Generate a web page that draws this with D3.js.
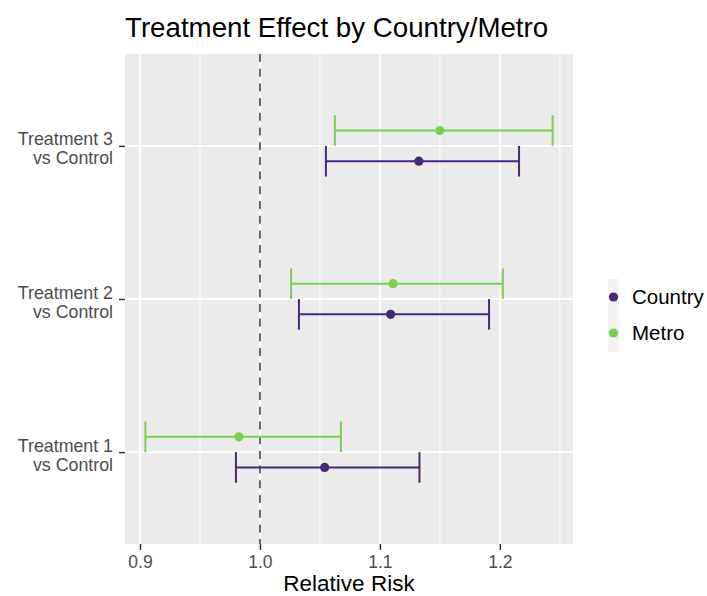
<!DOCTYPE html>
<html>
<head>
<meta charset="utf-8">
<script src="https://cdn.jsdelivr.net/npm/d3@7"></script>
<style>
  body { margin: 0; background: #fff; }
  text { font-family: "Liberation Sans", Arial, Helvetica, sans-serif; }
</style>
</head>
<body>
<svg id="chart" width="707" height="596"></svg>
<script>
// ---- data ----
const comparisons = ["Treatment 1\nvs Control", "Treatment 2\nvs Control", "Treatment 3\nvs Control"];
const groups = ["Country", "Metro"];
const groupColors = ["#482878", "#7AD151"];
const countryEstimate = [1.054, 1.109, 1.1325];
const countryLower    = [0.980, 1.0325, 1.055];
const countryUpper    = [1.133, 1.191, 1.216];
const metroEstimate   = [0.9825, 1.111, 1.150];
const metroLower      = [0.9045, 1.026, 1.0625];
const metroUpper      = [1.0675, 1.2025, 1.244];
const xTicks = [0.9, 1.0, 1.1, 1.2];
const xMinor = [0.95, 1.05, 1.15, 1.25];
const referenceLine = 1.0;
const titleText = "Treatment Effect by Country/Metro";
const xTitle = "Relative Risk";

const rows = [];
comparisons.forEach((c, i) => {
  rows.push({comp: c, group: "Country", est: countryEstimate[i], lo: countryLower[i], hi: countryUpper[i]});
  rows.push({comp: c, group: "Metro", est: metroEstimate[i], lo: metroLower[i], hi: metroUpper[i]});
});

// ---- layout ----
const svg = d3.select("#chart");
const panel = {left: 125, right: 573, top: 54, bottom: 544};

const allVals = rows.flatMap(d => [d.lo, d.hi, d.est]);
const dMin = d3.min(allVals), dMax = d3.max(allVals);
const pad = (dMax - dMin) * 0.05;
const x = d3.scaleLinear().domain([dMin - pad, dMax + pad]).range([panel.left, panel.right]);

// discrete y: positions 1..3 with 0.6 expansion
const yCont = d3.scaleLinear().domain([0.4, comparisons.length + 0.6]).range([panel.bottom, panel.top]);
const yPos = c => yCont(comparisons.indexOf(c) + 1);
const dodge = d3.scaleOrdinal().domain(groups).range([-0.1, 0.1]); // Country below, Metro above
const color = d3.scaleOrdinal().domain(groups).range(groupColors);
const rowY = d => yCont(comparisons.indexOf(d.comp) + 1 + dodge(d.group));

// panel background
svg.append("rect")
  .attr("x", panel.left).attr("y", panel.top)
  .attr("width", panel.right - panel.left).attr("height", panel.bottom - panel.top)
  .attr("fill", "#EBEBEB");

// minor grid
svg.append("g").selectAll("line").data(xMinor.filter(v => x(v) >= panel.left && x(v) <= panel.right)).join("line")
  .attr("x1", d => x(d)).attr("x2", d => x(d))
  .attr("y1", panel.top).attr("y2", panel.bottom)
  .attr("stroke", "#fff").attr("stroke-width", 0.9);

// major grid
svg.append("g").selectAll("line").data(xTicks).join("line")
  .attr("x1", d => x(d)).attr("x2", d => x(d))
  .attr("y1", panel.top).attr("y2", panel.bottom)
  .attr("stroke", "#fff").attr("stroke-width", 1.8);
svg.append("g").selectAll("line").data(comparisons).join("line")
  .attr("x1", panel.left).attr("x2", panel.right)
  .attr("y1", d => yPos(d)).attr("y2", d => yPos(d))
  .attr("stroke", "#fff").attr("stroke-width", 1.8);

// reference dashed line
svg.append("line")
  .attr("x1", x(referenceLine)).attr("x2", x(referenceLine))
  .attr("y1", panel.top).attr("y2", panel.bottom)
  .attr("stroke", "#5a5a5a").attr("stroke-width", 1.8)
  .attr("stroke-dasharray", "8,6.7");

// error bars
const capHalf = (yCont(1.1) - yCont(1.0)) * -1; // half of 0.2 width
const eb = svg.append("g").selectAll("g").data(rows).join("g")
  .attr("stroke", d => color(d.group)).attr("stroke-width", 2).attr("fill", "none");
eb.append("line")
  .attr("x1", d => x(d.lo)).attr("x2", d => x(d.hi))
  .attr("y1", d => rowY(d)).attr("y2", d => rowY(d));
eb.append("line")
  .attr("x1", d => x(d.lo)).attr("x2", d => x(d.lo))
  .attr("y1", d => rowY(d) - capHalf).attr("y2", d => rowY(d) + capHalf);
eb.append("line")
  .attr("x1", d => x(d.hi)).attr("x2", d => x(d.hi))
  .attr("y1", d => rowY(d) - capHalf).attr("y2", d => rowY(d) + capHalf);

// points
svg.append("g").selectAll("circle").data(rows).join("circle")
  .attr("cx", d => x(d.est)).attr("cy", d => rowY(d))
  .attr("r", 4.6).attr("fill", d => color(d.group));

// x axis
const xAxis = svg.append("g")
  .attr("transform", `translate(0,${panel.bottom})`)
  .call(d3.axisBottom(x).tickValues(xTicks).tickFormat(d3.format(".1f")).tickSize(6).tickSizeOuter(0));
xAxis.select(".domain").remove();
xAxis.selectAll(".tick line").attr("stroke", "#333").attr("stroke-width", 1.5);
xAxis.selectAll(".tick text")
  .attr("fill", "#4D4D4D").attr("font-size", "17.5px")
  .attr("font-family", "'Liberation Sans', Arial, sans-serif")
  .attr("dy", null).attr("y", 24);

// y axis
const yAxis = svg.append("g")
  .attr("transform", `translate(${panel.left},0)`)
  .call(d3.axisLeft(d3.scalePoint().domain(comparisons).range([yPos(comparisons[0]), yPos(comparisons[comparisons.length-1])])).tickSize(6).tickSizeOuter(0));
yAxis.select(".domain").remove();
yAxis.selectAll(".tick line").attr("stroke", "#333").attr("stroke-width", 1.5);
yAxis.selectAll(".tick text").each(function(d) {
  const t = d3.select(this);
  t.text(null)
    .attr("fill", "#4D4D4D").attr("font-size", "17.8px")
    .attr("font-family", "'Liberation Sans', Arial, sans-serif")
    .attr("text-anchor", "end").attr("x", -12).attr("dy", null);
  const lines = d.split("\n");
  lines.forEach((ln, i) => {
    t.append("tspan").attr("x", -12).attr("y", -1 + i * 19).text(ln);
  });
});

// title
svg.append("text")
  .attr("x", panel.left).attr("y", 37)
  .attr("font-size", "27.7px").attr("fill", "#000")
  .text(titleText);

// x title
svg.append("text")
  .attr("x", (panel.left + panel.right) / 2).attr("y", 591)
  .attr("text-anchor", "middle")
  .attr("font-size", "22.5px").attr("fill", "#000")
  .text(xTitle);

// legend
const legend = svg.append("g");
const legY = d3.scalePoint().domain(groups).range([297, 333]);
legend.append("rect")
  .attr("x", 608).attr("y", 279).attr("width", 11).attr("height", 73)
  .attr("fill", "#F2F2F2");
legend.selectAll("circle").data(groups).join("circle")
  .attr("cx", 613.5).attr("cy", d => legY(d)).attr("r", 4.6)
  .attr("fill", d => color(d));
legend.selectAll("text").data(groups).join("text")
  .attr("x", 632).attr("y", d => legY(d) + 7)
  .attr("font-size", "20.5px").attr("fill", "#000")
  .text(d => d);
</script>
</body>
</html>
